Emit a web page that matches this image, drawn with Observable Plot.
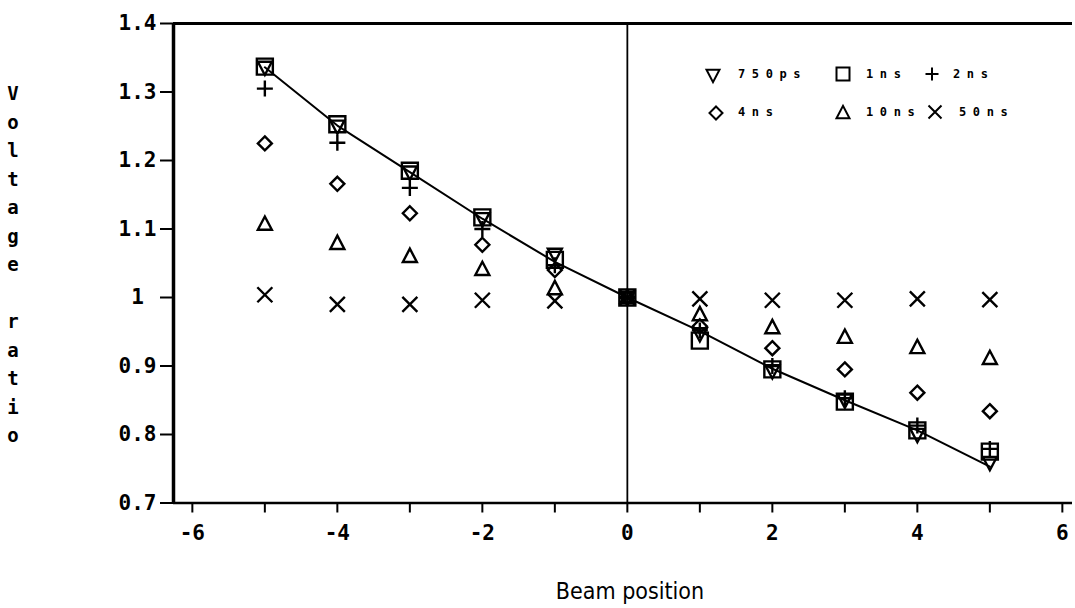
<!DOCTYPE html>
<html>
<head>
<meta charset="utf-8">
<script src="https://cdn.jsdelivr.net/npm/d3@7"></script>
<script src="https://cdn.jsdelivr.net/npm/@observablehq/plot@0.6"></script>
<style>
  html, body { margin: 0; padding: 0; background: #fff; }
  #wrap { position: relative; width: 1075px; height: 608px; overflow: hidden; background: #fff; }
  #chart svg g[aria-label*="axis"] line,
  #chart svg g[aria-label*="axis"] path { stroke-width: 2px; }
  #chart svg g[aria-label*="axis"] text { font-weight: bold; }
  #ylabel { position: absolute; left: 0; width: 26px; top: 79px; font-family: "DejaVu Sans Mono", monospace; font-size: 19px; font-weight: bold; line-height: 28.5px; text-align: center; color: #000; }
  #xlabel { position: absolute; left: 0; width: 1260px; top: 579px; line-height: 24px; text-align: center; font-family: "Liberation Sans Narrow", "DejaVu Sans Condensed", sans-serif; font-size: 23px; color: #000; }
  #legend { position: absolute; left: 0; top: 0; }
  .lg { position: absolute; font-family: "DejaVu Sans Mono", monospace; font-size: 12px; font-weight: bold; letter-spacing: 6.6px; color: #000; }
</style>
</head>
<body>
<div id="wrap">
  <div id="chart"></div>
  <div id="ylabel"></div>
  <div id="xlabel">Beam position</div>
  <div id="legend"></div>
</div>
<script>
// ---- data ----
const positions = [-5, -4, -3, -2, -1, 0, 1, 2, 3, 4, 5];
const seriesNames = ["750ps", "1ns", "2ns", "4ns", "10ns", "50ns"];
const v750ps = [1.336, 1.250, 1.183, 1.115, 1.063, 1.000, 0.947, 0.893, 0.850, 0.800, 0.759];
const v1ns   = [1.337, 1.253, 1.185, 1.117, 1.055, 1.000, 0.937, 0.895, 0.848, 0.806, 0.775];
const v2ns   = [1.305, 1.226, 1.160, 1.100, 1.047, 1.000, 0.952, 0.900, 0.853, 0.813, 0.779];
const v4ns   = [1.225, 1.166, 1.123, 1.077, 1.040, 1.000, 0.958, 0.926, 0.895, 0.861, 0.834];
const v10ns  = [1.107, 1.079, 1.060, 1.041, 1.013, 1.000, 0.975, 0.956, 0.942, 0.927, 0.911];
const v50ns  = [1.004, 0.990, 0.990, 0.996, 0.995, 1.000, 0.998, 0.996, 0.996, 0.998, 0.997];
const fitLine = [1.336, 1.251, 1.183, 1.115, 1.052, 1.000, 0.951, 0.896, 0.850, 0.806, 0.753];
const xTicks = [-6, -5, -4, -3, -2, -1, 0, 1, 2, 3, 4, 5, 6];
const yTicks = [0.7, 0.8, 0.9, 1.0, 1.1, 1.2, 1.3, 1.4];
const xDomain = [-6.26, 6.14];
const yDomain = [0.7, 1.4];
const yAxisLabel = "Voltage ratio";

// ---- symbols ----
const half = s => Math.sqrt(s / Math.PI);
const symDown = { draw(c, s) { const h = half(s); c.moveTo(-h, -h * 0.8); c.lineTo(h, -h * 0.8); c.lineTo(0, h * 1.1); c.closePath(); } };
const symUp = { draw(c, s) { const h = half(s); c.moveTo(-h, h * 0.8); c.lineTo(h, h * 0.8); c.lineTo(0, -h * 1.1); c.closePath(); } };
const symSquare = { draw(c, s) { const h = half(s); c.moveTo(-h, -h); c.lineTo(h, -h); c.lineTo(h, h); c.lineTo(-h, h); c.closePath(); } };
const symPlus = { draw(c, s) { const h = half(s); c.moveTo(-h, 0); c.lineTo(h, 0); c.moveTo(0, -h); c.lineTo(0, h); } };
const symDiamond = { draw(c, s) { const h = half(s); c.moveTo(0, -h); c.lineTo(h, 0); c.lineTo(0, h); c.lineTo(-h, 0); c.closePath(); } };
const symTimes = { draw(c, s) { const h = half(s); c.moveTo(-h, -h); c.lineTo(h, h); c.moveTo(h, -h); c.lineTo(-h, h); } };

const seriesValues = [v750ps, v1ns, v2ns, v4ns, v10ns, v50ns];
const seriesSymbols = [symDown, symSquare, symPlus, symDiamond, symUp, symTimes];
const seriesR = [7, 8, 8, 7, 7, 7.5];

const rows = seriesNames.map((name, k) => positions.map((p, i) => ({series: name, x: p, y: seriesValues[k][i]})));
const lineRows = positions.map((p, i) => ({x: p, y: fitLine[i]}));

const dotMarks = rows.map((data, k) => Plot.dot(data, {
  x: "x", y: "y", symbol: seriesSymbols[k], r: seriesR[k],
  stroke: "black", strokeWidth: 2.4, fill: "none"
}));

const chart = Plot.plot({
  width: 1075, height: 608,
  marginLeft: 173, marginRight: 3, marginTop: 23, marginBottom: 105.5,
  style: { fontFamily: "'DejaVu Sans Mono', monospace", fontSize: "21px", color: "black", background: "white" },
  x: { domain: xDomain, ticks: xTicks, tickSize: 10, tickPadding: 12, label: null,
       tickFormat: d => (d % 2 === 0 ? String(d) : "") },
  y: { domain: yDomain, ticks: yTicks, tickSize: 13, tickPadding: 4, label: null,
       tickFormat: d => (Math.abs(d - 1) < 1e-9 ? "1\u00a0" : d.toFixed(1)) },
  marks: [
    Plot.ruleX([xDomain[0]], { stroke: "black", strokeWidth: 3.5 }),
    Plot.ruleY([yDomain[1]], { stroke: "black", strokeWidth: 3 }),
    Plot.ruleY([yDomain[0]], { stroke: "black", strokeWidth: 2.5 }),
    Plot.ruleX([0], { stroke: "black", strokeWidth: 1.8 }),
    Plot.line(lineRows, { x: "x", y: "y", stroke: "black", strokeWidth: 2 }),
    ...dotMarks
  ]
});
document.getElementById("chart").appendChild(chart);

// y label stacked letters
const yl = document.getElementById("ylabel");
for (const ch of yAxisLabel) {
  const d = document.createElement("div");
  d.textContent = ch === " " ? "\u00a0" : ch;
  yl.appendChild(d);
}

// legend (HTML overlay)
const legendLayout = [
  { k: 0, sx: 713, sy: 75, tx: 738, ty: 67 },
  { k: 1, sx: 843, sy: 74, tx: 866, ty: 67 },
  { k: 2, sx: 932, sy: 74, tx: 953, ty: 67 },
  { k: 3, sx: 716, sy: 113, tx: 738, ty: 105 },
  { k: 4, sx: 843, sy: 113, tx: 866, ty: 105 },
  { k: 5, sx: 935, sy: 112, tx: 959, ty: 105 }
];
const legend = d3.select("#legend");
for (const it of legendLayout) {
  const svg = legend.append("svg").attr("width", 20).attr("height", 20)
    .style("position", "absolute").style("left", (it.sx - 10) + "px").style("top", (it.sy - 10) + "px");
  const p = d3.path();
  seriesSymbols[it.k].draw(p, Math.PI * 6.5 * 6.5);
  svg.append("path").attr("transform", "translate(10,10)").attr("d", p.toString())
    .attr("fill", "none").attr("stroke", "black").attr("stroke-width", 2);
  legend.append("div").attr("class", "lg").style("left", it.tx + "px").style("top", it.ty + "px")
    .text(seriesNames[it.k]);
}
</script>
</body>
</html>
